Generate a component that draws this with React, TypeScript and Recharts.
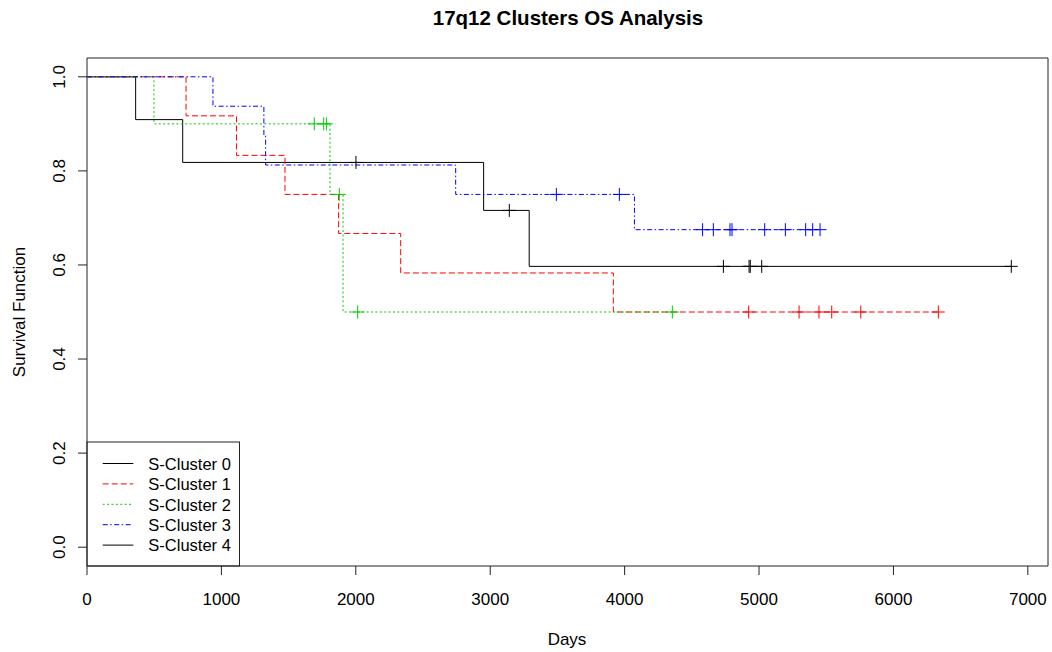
import React from "react";
import {
  ComposedChart,
  Line,
  Scatter,
  XAxis,
  YAxis,
  ReferenceArea,
} from "recharts";

// Kaplan-Meier steps per cluster (event times in days, survival after the step)
const times0 = [0, 362, 712, 2951, 3290, 6877];
const surv0 = [1, 0.909, 0.818, 0.716, 0.597, 0.597];
const times1 = [0, 737, 1112, 1473, 1872, 2334, 3916, 6334];
const surv1 = [1, 0.917, 0.833, 0.75, 0.667, 0.583, 0.5, 0.5];
const times2 = [0, 498, 1808, 1905, 4355];
const surv2 = [1, 0.9, 0.75, 0.5, 0.5];
const times3 = [0, 937, 1316, 1329, 2743, 4073, 5454];
const surv3 = [1, 0.9375, 0.875, 0.8125, 0.75, 0.675, 0.675];

// censored observations
const cens0 = [2001, 3142, 4735, 4926, 4935, 5020, 6877];
const censS0 = [0.818, 0.716, 0.597, 0.597, 0.597, 0.597, 0.597];
const cens1 = [4923, 5298, 5446, 5541, 5757, 6334];
const censS1 = [0.5, 0.5, 0.5, 0.5, 0.5, 0.5];
const cens2 = [1691, 1761, 1781, 1877, 2014, 4355];
const censS2 = [0.9, 0.9, 0.9, 0.75, 0.5, 0.5];
const cens3 = [3492, 3961, 4580, 4660, 4784, 4799, 5042, 5196, 5347, 5399, 5454];
const censS3 = [0.75, 0.75, 0.675, 0.675, 0.675, 0.675, 0.675, 0.675, 0.675, 0.675, 0.675];

const xTicks = [0, 1000, 2000, 3000, 4000, 5000, 6000, 7000];
const yTicks = [0, 0.2, 0.4, 0.6, 0.8, 1.0];
const legendNames = ["S-Cluster 0", "S-Cluster 1", "S-Cluster 2", "S-Cluster 3", "S-Cluster 4"];

const FONT = "'Liberation Sans', Arial, sans-serif";
const colors = ["#000000", "#ff0000", "#00cd00", "#0000ff", "#000000"];
const dashes = [undefined, "6 3", "2 2.4", "5 2.5 1.5 2.5", undefined];

const zip = (t: number[], s: number[]) => t.map((v, i) => ({ t: v, s: s[i] }));

const curves = [
  { steps: zip(times0, surv0), cens: zip(cens0, censS0) },
  { steps: zip(times1, surv1), cens: zip(cens1, censS1) },
  { steps: zip(times2, surv2), cens: zip(cens2, censS2) },
  { steps: zip(times3, surv3), cens: zip(cens3, censS3) },
];

const plus = (color: string) => (props: any) => {
  const { cx, cy } = props;
  return (
    <path
      d={`M${cx - 6.5},${cy}H${cx + 6.5}M${cx},${cy - 6.5}V${cy + 6.5}`}
      stroke={color}
      strokeWidth={1}
      fill="none"
    />
  );
};

const YTick = (props: any) => {
  const { x, y, payload } = props;
  const tx = x - 11;
  return (
    <text
      x={tx}
      y={y}
      transform={`rotate(-90 ${tx} ${y})`}
      textAnchor="middle"
      fontSize={17}
      fontFamily={FONT}
      fill="#000"
    >
      {Number(payload.value).toFixed(1)}
    </text>
  );
};

export default function App() {
  return (
    <div style={{ position: "absolute", left: 0, top: 0, background: "#fff" }}>
      <ComposedChart
        width={1052}
        height={652}
        margin={{ top: 58, right: 4, left: 0, bottom: 0 }}
      >
        <XAxis
          dataKey="t"
          type="number"
          domain={[0, 7150]}
          ticks={xTicks}
          allowDataOverflow
          height={86}
          axisLine={false}
          tickSize={9}
          tickMargin={18}
          tickLine={{ stroke: "#222" }}
          tick={{ fontSize: 17, fill: "#000", fontFamily: FONT }}
        />
        <YAxis
          type="number"
          domain={[-0.04, 1.04]}
          ticks={yTicks}
          allowDataOverflow
          width={87}
          axisLine={false}
          tickSize={9}
          tickMargin={2}
          tickLine={{ stroke: "#222" }}
          tick={<YTick />}
        />
        <ReferenceArea
          x1={0}
          x2={7150}
          y1={-0.04}
          y2={1.04}
          fill="none"
          fillOpacity={0}
          stroke="#222"
          strokeWidth={1}
        />
        {curves.map((c, i) => (
          <Line
            key={`line-${i}`}
            data={c.steps}
            dataKey="s"
            type="stepAfter"
            stroke={colors[i]}
            strokeWidth={1}
            strokeDasharray={dashes[i]}
            dot={false}
            activeDot={false}
            isAnimationActive={false}
          />
        ))}
        {curves.map((c, i) => (
          <Scatter
            key={`cens-${i}`}
            data={c.cens}
            dataKey="s"
            shape={plus(colors[i])}
            isAnimationActive={false}
          />
        ))}

        <text
          x={568}
          y={25}
          textAnchor="middle"
          fontSize={20.5}
          fontWeight="bold"
          fontFamily={FONT}
          fill="#000"
        >
          17q12 Clusters OS Analysis
        </text>
        <text x={567} y={645} textAnchor="middle" fontSize={17} fontFamily={FONT} fill="#000">
          Days
        </text>
        <text
          x={24.5}
          y={312}
          transform="rotate(-90 24.5 312)"
          textAnchor="middle"
          fontSize={17}
          fontFamily={FONT}
          fill="#000"
        >
          Survival Function
        </text>

        <g>
          <rect x={87} y={442} width={152.5} height={124} fill="#fff" stroke="#222" strokeWidth={1} />
          {legendNames.map((name, i) => {
            const cy = 463.5 + i * 20.4;
            return (
              <g key={name}>
                <line
                  x1={102.7}
                  x2={133.3}
                  y1={cy}
                  y2={cy}
                  stroke={colors[i]}
                  strokeWidth={1}
                  strokeDasharray={dashes[i]}
                />
                <text x={148.3} y={cy + 6.3} fontSize={16.5} fontFamily={FONT} fill="#000">
                  {name}
                </text>
              </g>
            );
          })}
        </g>
      </ComposedChart>
    </div>
  );
}
